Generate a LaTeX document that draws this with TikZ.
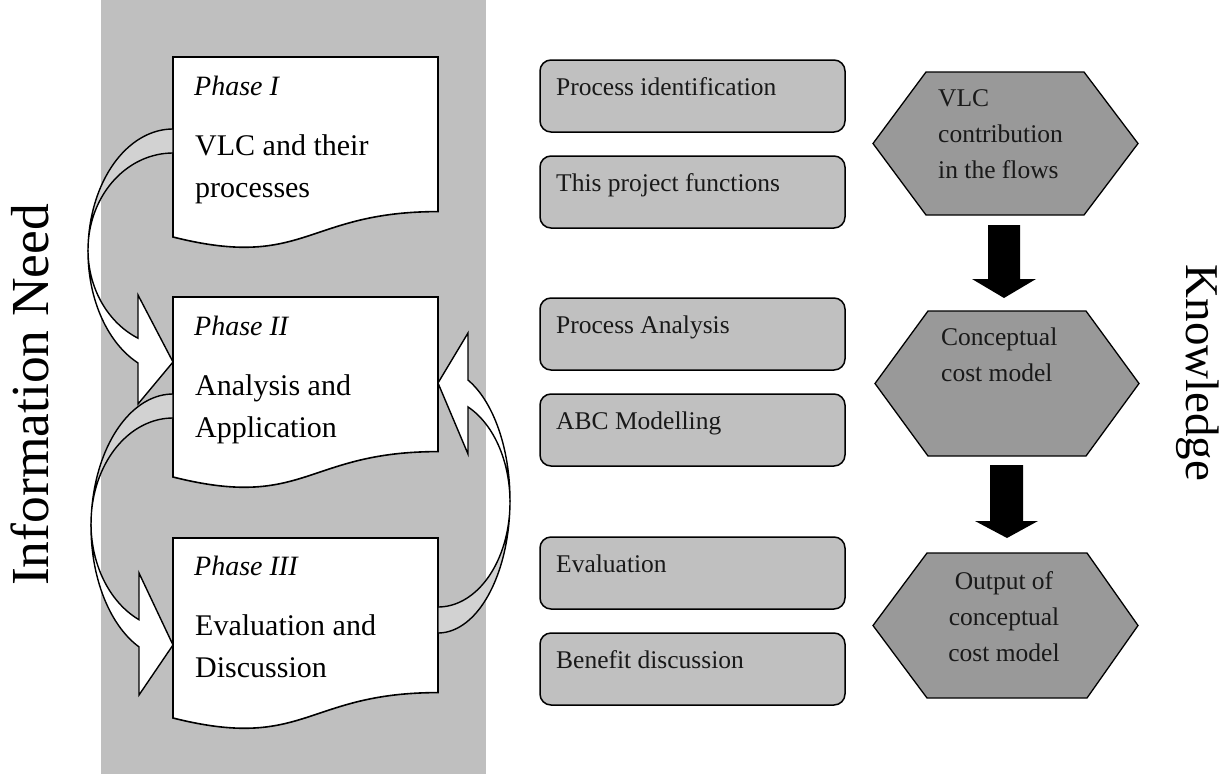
\documentclass[tikz,border=0pt]{standalone}
\usepackage{fontspec}
\setmainfont{Liberation Serif}
\definecolor{panelgray}{RGB}{191,191,191}
\definecolor{backgray}{RGB}{210,210,210}
\definecolor{hexgray}{RGB}{153,153,153}
\definecolor{boxgray}{RGB}{192,192,192}
\begin{document}
\begin{tikzpicture}[x=1pt,y=-1pt,
  doc/.style={draw=black, line width=1.6pt, fill=white},
  backface/.style={draw=black, line width=1.4pt, fill=backgray, line join=round},
  frontface/.style={draw=black, line width=1.4pt, fill=white, line join=miter},
  rbox/.style={draw=black, line width=1.5pt, fill=boxgray, rounded corners=11pt},
  hexa/.style={draw=black, line width=1.3pt, fill=hexgray},
  blockdown/.style={fill=black},
  phasetext/.style={inner sep=0pt, anchor=base west, font=\fontsize{30}{36}\selectfont},
  phasehead/.style={inner sep=0pt, anchor=base west, font=\fontsize{28}{34}\selectfont\itshape},
  stagetext/.style={inner sep=0pt, anchor=base west, font=\fontsize{25.5}{30}\selectfont, text=black!90},
  title/.style={inner sep=0pt, anchor=base},
  docpage/.pic={\draw[doc] (0,0) -- (265,0) -- (265,154.6)
      .. controls (132.5,154.6) and (132.5,213.4) .. (0,180) -- cycle;}
]
\useasboundingbox (0,0) rectangle (1229,774);

% shaded column behind the three phases
\fill[panelgray] (101,0) rectangle (486,774);

% phase pages
\pic at (173,57) {docpage};
\pic at (173,297) {docpage};
\pic at (173,538) {docpage};

\node[phasehead] (ph1) at (194,95) {Phase I};
\node[phasetext] (ph1a) at (195,155) {VLC and their};
\node[phasetext] (ph1b) at (195,197) {processes};

\node[phasehead] (ph2) at (194,335) {Phase II};
\node[phasetext] (ph2a) at (195,395) {Analysis and};
\node[phasetext] (ph2b) at (195,437) {Application};

\node[phasehead] (ph3) at (194,575) {Phase III};
\node[phasetext] (ph3a) at (195,635) {Evaluation and};
\node[phasetext] (ph3b) at (195,677) {Discussion};

% curved block arrow: Phase I -> Phase II
\draw[backface]
  plot[domain=270:180, samples=40, variable=\t] ({173+85*cos(\t)},{251.4+122.4*sin(\t)})
  -- plot[domain=180:270, samples=40, variable=\t] ({173+85*cos(\t)},{249.9+96.9*sin(\t)})
  -- cycle;
\draw[frontface]
  plot[domain=180:114.3, samples=40, variable=\t] ({173+85*cos(\t)},{251.4+122.4*sin(\t)})
  -- (138,404) -- (173,362) -- (138,295) --
  plot[domain=114.3:180, samples=40, variable=\t] ({173+85*cos(\t)},{249.9+96.9*sin(\t)})
  -- cycle;

% curved block arrow: Phase II -> Phase III
\draw[backface]
  plot[domain=270:180, samples=40, variable=\t] ({173+82*cos(\t)},{526.4+132.4*sin(\t)})
  -- plot[domain=180:270, samples=40, variable=\t] ({173+82*cos(\t)},{523.6+105.6*sin(\t)})
  -- cycle;
\draw[frontface]
  plot[domain=180:114.5, samples=40, variable=\t] ({173+82*cos(\t)},{526.4+132.4*sin(\t)})
  -- (139,695) -- (173,645) -- (139,573) --
  plot[domain=114.5:180, samples=40, variable=\t] ({173+82*cos(\t)},{523.6+105.6*sin(\t)})
  -- cycle;

% curved block arrow: Phase III -> Phase II
\draw[backface]
  plot[domain=90:0, samples=40, variable=\t] ({438+72*cos(\t)},{500.5+132.5*sin(\t)})
  -- plot[domain=0:90, samples=40, variable=\t] ({438+72*cos(\t)},{502.2+104.8*sin(\t)})
  -- cycle;
\draw[frontface]
  plot[domain=0:-65.4, samples=40, variable=\t] ({438+72*cos(\t)},{500.5+132.5*sin(\t)})
  -- (468,333) -- (438,383) -- (468,454) --
  plot[domain=-65.4:0, samples=40, variable=\t] ({438+72*cos(\t)},{502.2+104.8*sin(\t)})
  -- cycle;

% activity boxes
\foreach \top in {60,156,298,394,537,633}
  \draw[rbox] (540,\top) rectangle (845,\top+72);
\node[stagetext] (s1) at (556,95) {Process identification};
\node[stagetext] (s2) at (556,191) {This project functions};
\node[stagetext] (s3) at (556,333) {Process Analysis};
\node[stagetext] (s4) at (556,429) {ABC Modelling};
\node[stagetext] (s5) at (556,572) {Evaluation};
\node[stagetext] (s6) at (556,668) {Benefit discussion};

% results
\draw[hexa] (873,143.5) -- (926,72) -- (1084,72) -- (1138,143.5) -- (1084,215) -- (926,215) -- cycle;
\draw[hexa] (875,383.5) -- (928,311) -- (1086,311) -- (1139,383.5) -- (1086,456) -- (928,456) -- cycle;
\draw[hexa] (873,625.5) -- (927,553) -- (1087,553) -- (1138,625.5) -- (1087,698) -- (927,698) -- cycle;

\node[stagetext] (r1a) at (938,106) {VLC};
\node[stagetext] (r1b) at (938,142) {contribution};
\node[stagetext] (r1c) at (938,178) {in the flows};
\node[stagetext] (r2a) at (941,345) {Conceptual};
\node[stagetext] (r2b) at (941,381) {cost model};
\node[stagetext, anchor=base] (r3a) at (1004,589) {Output of};
\node[stagetext, anchor=base] (r3b) at (1004,625) {conceptual};
\node[stagetext, anchor=base] (r3c) at (1004,661) {cost model};

% block arrows between results
\fill[blockdown] (988,225) -- (1020,225) -- (1020,279) -- (1036,279) -- (1004,298) -- (972,279) -- (988,279) -- cycle;
\fill[blockdown] (990,465) -- (1023,465) -- (1023,521) -- (1038,521) -- (1007,538) -- (975,521) -- (990,521) -- cycle;

% side titles
\node[title, rotate=90, font=\fontsize{53.5}{60}\selectfont] (need) at (48,395) {Information Need};
\node[title, rotate=-90, font=\fontsize{47}{56}\selectfont] (know) at (1186,373) {Knowledge};
\end{tikzpicture}
\end{document}
